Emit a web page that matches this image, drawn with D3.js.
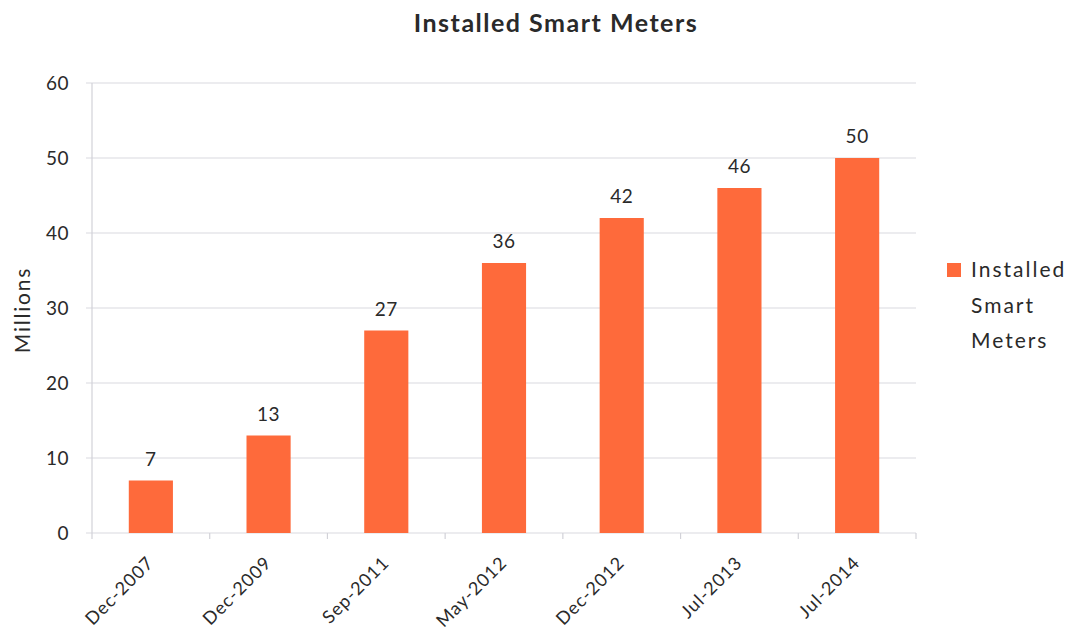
<!DOCTYPE html>
<html><head><meta charset="utf-8">
<script src="https://cdn.jsdelivr.net/npm/d3@7"></script>
<style>body{margin:0;background:#fff}svg{display:block}text{font-family:Lato,"Open Sans",sans-serif;fill:#2a2a2a}</style>
</head><body>
<svg id="c" width="1069" height="636"></svg>
<script>
const categories = ["Dec-2007","Dec-2009","Sep-2011","May-2012","Dec-2012","Jul-2013","Jul-2014"];
const values = [7,13,27,36,42,46,50];
const yTicks = [0,10,20,30,40,50,60];
const seriesName = ["Installed","Smart","Meters"];
const title = "Installed Smart Meters";
const yLabel = "Millions";

const svg = d3.select("#c");
const mL = 92, mR = 916, mT = 83, mB = 533;
const x = d3.scaleBand().domain(categories).range([mL, mR]).paddingInner(0.625).paddingOuter(0.3125);
const y = d3.scaleLinear().domain([0,60]).range([mB, mT]);
const color = "#FE6A3B";

// gridlines
svg.append("g").selectAll("line").data(yTicks).join("line")
  .attr("x1", mL-6).attr("x2", mR).attr("y1", d=>y(d)).attr("y2", d=>y(d))
  .attr("stroke", "#d9d9df").attr("stroke-width", 1.2);
// y axis line
svg.append("line").attr("x1", mL).attr("x2", mL).attr("y1", mT).attr("y2", mB)
  .attr("stroke", "#d2d2d8").attr("stroke-width", 1.2);
// x tick marks at band boundaries
const step = x.step();
svg.append("g").selectAll("line").data(d3.range(categories.length+1)).join("line")
  .attr("x1", i=>mL+i*step).attr("x2", i=>mL+i*step).attr("y1", mB).attr("y2", mB+6)
  .attr("stroke", "#d2d2d8").attr("stroke-width", 1.2);

// y tick labels
svg.append("g").selectAll("text").data(yTicks).join("text")
  .attr("x", 69).attr("y", d=>y(d)).attr("dy","0.36em").attr("text-anchor","end")
  .attr("font-size", 19).attr("letter-spacing", 0.5).text(d=>d);

// bars
svg.append("g").selectAll("rect").data(values).join("rect")
  .attr("x", (d,i)=>x(categories[i])).attr("width", x.bandwidth())
  .attr("y", d=>y(d)).attr("height", d=>y(0)-y(d)).attr("fill", color);

// data labels
svg.append("g").selectAll("text").data(values).join("text")
  .attr("x", (d,i)=>x(categories[i])+x.bandwidth()/2).attr("y", d=>y(d)-15)
  .attr("text-anchor","middle").attr("font-size", 19).attr("letter-spacing", 0.5).text(d=>d);

// x labels
svg.append("g").selectAll("text").data(categories).join("text")
  .attr("transform", d=>`translate(${x(d)+x.bandwidth()/2+4},${mB+31}) rotate(-45)`)
  .attr("text-anchor","end").attr("font-size", 18).attr("letter-spacing", 1).text(d=>d);

// title
svg.append("text").attr("x", 556).attr("y", 32).attr("text-anchor","middle")
  .attr("font-size", 25).attr("font-weight","bold").attr("letter-spacing", 1.5).text(title);

// y label
svg.append("text").attr("transform","translate(30,310) rotate(-90)").attr("text-anchor","middle")
  .attr("font-size", 21).attr("letter-spacing", 1.8).text(yLabel);

// legend
svg.append("rect").attr("x", 947).attr("y", 263).attr("width", 14).attr("height", 14).attr("fill", color);
svg.append("g").selectAll("text").data(seriesName).join("text")
  .attr("x", 971).attr("y", (d,i)=>277+i*35.5).attr("font-size", 21).attr("letter-spacing", 2).text(d=>d);
</script>
</body></html>
